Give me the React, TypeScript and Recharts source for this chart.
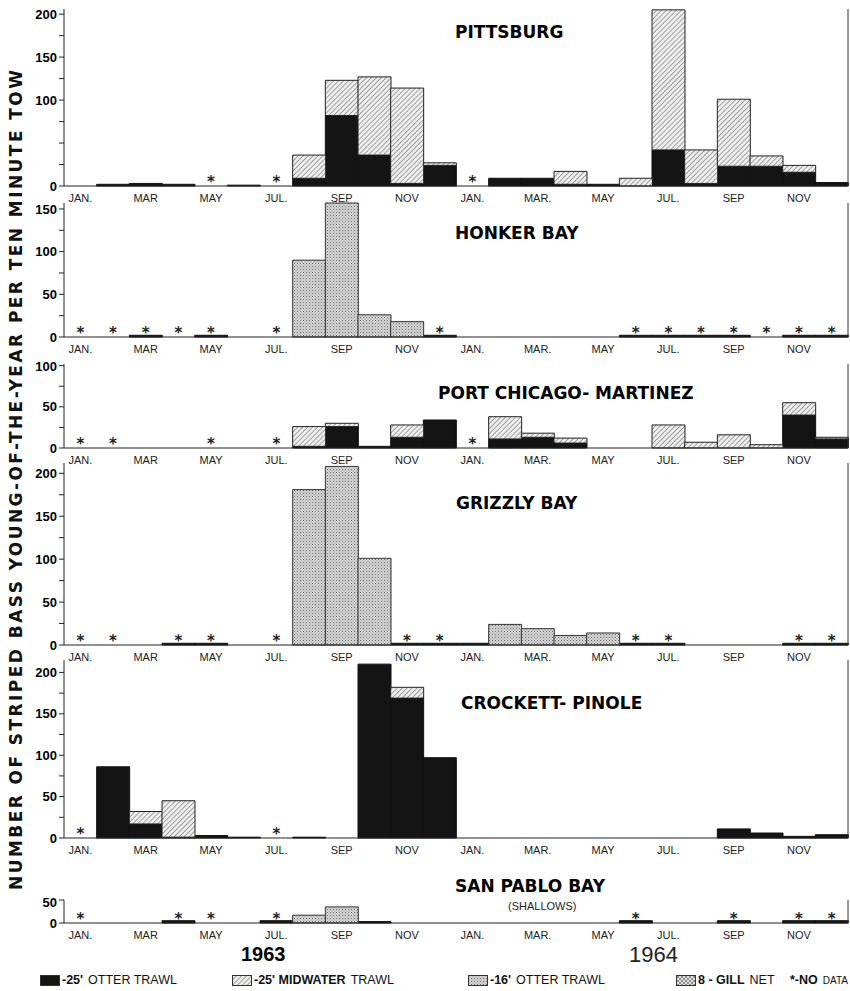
import React from "react";
import { ComposedChart, Bar, Line, XAxis, YAxis } from "recharts";

// month tick labels, Jan 1963 .. Dec 1964
const monthLabels = [
  "JAN.", "", "MAR", "", "MAY", "", "JUL.", "", "SEP", "", "NOV", "",
  "JAN.", "", "MAR.", "", "MAY", "", "JUL.", "", "SEP", "", "NOV", "",
];

// PITTSBURG
const pittsburgOtter25 = [0, 2, 3, 2, 0, 1, 0, 9, 82, 36, 3, 24, 0, 9, 9, 2, 2, 0, 42, 3, 23, 23, 16, 4];
const pittsburgMidwater = [0, 0, 0, 0, 0, 0, 0, 27, 41, 91, 111, 3, 0, 0, 0, 15, 0, 9, 163, 39, 78, 12, 8, 0];
const pittsburgNoData = [4, 6, 12];

// HONKER BAY
const honkerOtter25 = [0, 0, 2, 0, 2, 0, 0, 0, 0, 0, 0, 2, 0, 0, 0, 0, 0, 2, 2, 2, 2, 0, 2, 2];
const honkerOtter16 = [0, 0, 0, 0, 0, 0, 0, 90, 157, 26, 18, 0, 0, 0, 0, 0, 0, 0, 0, 0, 0, 0, 0, 0];
const honkerNoData = [0, 1, 2, 3, 4, 6, 11, 17, 18, 19, 20, 21, 22, 23];

// PORT CHICAGO - MARTINEZ
const portChicagoOtter25 = [0, 0, 0, 0, 0, 0, 0, 2, 26, 2, 13, 34, 0, 11, 13, 6, 0, 0, 0, 0, 0, 0, 40, 11];
const portChicagoMidwater = [0, 0, 0, 0, 0, 0, 0, 24, 4, 0, 15, 0, 0, 27, 5, 6, 0, 0, 28, 7, 16, 4, 15, 2];
const portChicagoNoData = [0, 1, 4, 6, 12];

// GRIZZLY BAY
const grizzlyOtter25 = [0, 0, 0, 2, 2, 0, 0, 0, 0, 0, 2, 2, 2, 0, 0, 0, 0, 2, 2, 0, 0, 0, 2, 2];
const grizzlyOtter16 = [0, 0, 0, 0, 0, 0, 0, 181, 208, 101, 0, 0, 0, 24, 19, 11, 14, 0, 0, 0, 0, 0, 0, 0];
const grizzlyNoData = [0, 1, 3, 4, 6, 10, 11, 17, 18, 22, 23];

// CROCKETT - PINOLE
const crockettOtter25 = [0, 86, 17, 1, 3, 1, 0, 1, 0, 210, 169, 97, 0, 0, 0, 0, 0, 0, 0, 0, 11, 6, 2, 4];
const crockettMidwater = [0, 0, 15, 44, 0, 0, 0, 0, 0, 0, 13, 0, 0, 0, 0, 0, 0, 0, 0, 0, 0, 0, 0, 0];
const crockettNoData = [0, 6];

// SAN PABLO BAY (SHALLOWS)
const sanPabloOtter25 = [0, 0, 0, 5, 0, 0, 5, 0, 0, 3, 0, 0, 0, 0, 0, 0, 0, 5, 0, 0, 5, 0, 5, 5];
const sanPabloOtter16 = [0, 0, 0, 0, 0, 0, 0, 17, 35, 0, 0, 0, 0, 0, 0, 0, 0, 0, 0, 0, 0, 0, 0, 0];
const sanPabloNoData = [0, 3, 4, 6, 17, 20, 22, 23];

const panels = [
  { name: "PITTSBURG", zero: 186, ppu: 0.86, max: 206, labels: [0, 100, 150, 200],
    otter25: pittsburgOtter25, midwater: pittsburgMidwater, noData: pittsburgNoData,
    title: { left: 455, top: 23 } },
  { name: "HONKER BAY", zero: 337, ppu: 0.88, max: 152, labels: [0, 50, 100, 150],
    otter25: honkerOtter25, otter16: honkerOtter16, noData: honkerNoData,
    title: { left: 455, top: 224 } },
  { name: "PORT CHICAGO- MARTINEZ", zero: 448, ppu: 0.82, max: 102, labels: [0, 50, 100],
    otter25: portChicagoOtter25, midwater: portChicagoMidwater, noData: portChicagoNoData,
    title: { left: 438, top: 384 } },
  { name: "GRIZZLY BAY", zero: 645, ppu: 0.86, max: 212, labels: [0, 50, 100, 150, 200],
    otter25: grizzlyOtter25, otter16: grizzlyOtter16, noData: grizzlyNoData,
    title: { left: 456, top: 494 } },
  { name: "CROCKETT- PINOLE", zero: 838, ppu: 0.83, max: 215, labels: [0, 50, 100, 150, 200],
    otter25: crockettOtter25, midwater: crockettMidwater, noData: crockettNoData,
    title: { left: 461, top: 694 } },
  { name: "SAN PABLO BAY", zero: 923, ppu: 0.46, max: 50, labels: [0, 50],
    otter25: sanPabloOtter25, otter16: sanPabloOtter16, noData: sanPabloNoData,
    title: { left: 455, top: 877 } },
];

const SANS = "'Liberation Sans', Arial, sans-serif";
const HEAVY = "'DejaVu Sans', sans-serif";

const Asterisk = (props: any) => {
  const { cx, cy, index, value } = props;
  if (value == null || cx == null || cy == null) return <g key={`nd-${index}`} />;
  return (
    <text key={`nd-${index}`} x={cx} y={cy + 1} textAnchor="middle" fontSize={15}
      fontFamily={HEAVY} fontWeight={700} fill="#222">*</text>
  );
};

function Panel({ p }: { p: any }) {
  const plotH = Math.round(p.max * p.ppu);
  const plotTop = p.zero - plotH;
  const top = 6;
  const rows = monthLabels.map((_, i) => ({
    m: i,
    otter25: p.otter25 ? p.otter25[i] : 0,
    midwater: p.midwater ? p.midwater[i] : 0,
    otter16: p.otter16 ? p.otter16[i] : 0,
    nd: p.noData.includes(i) ? 0 : null,
  }));
  const ticks: number[] = [];
  for (let t = 0; t <= p.max; t += 25) ticks.push(t);

  return (
    <div style={{ position: "absolute", left: 0, top: plotTop - top }}>
      <ComposedChart width={850} height={top + plotH + 18} data={rows}
        margin={{ top, right: 2, bottom: 0, left: 24 }} barCategoryGap={0} barGap={0}>
        <XAxis dataKey="m" interval={0} tickLine={false} height={18}
          axisLine={{ stroke: "#222" }}
          tickFormatter={(v) => monthLabels[v]}
          tick={{ fontSize: 11, fill: "#222", fontFamily: SANS }} />
        <YAxis yAxisId="left" width={40} domain={[0, p.max]} ticks={ticks}
          tickFormatter={(v) => (p.labels.includes(v) ? String(v) : "")}
          tickSize={5} axisLine={{ stroke: "#222" }} tickLine={{ stroke: "#222" }}
          tick={{ fontSize: 13, fontWeight: 700, fill: "#000", fontFamily: SANS }} />
        <YAxis yAxisId="right" orientation="right" mirror domain={[0, p.max]} ticks={ticks}
          tick={false} tickSize={6} axisLine={{ stroke: "#333" }} tickLine={{ stroke: "#333" }} />
        <Bar yAxisId="left" dataKey="otter25" stackId="a" fill="#141414" stroke="#111"
          strokeWidth={1} isAnimationActive={false} />
        <Bar yAxisId="left" dataKey="midwater" stackId="a" fill="url(#hatch)" stroke="#222"
          strokeWidth={1} isAnimationActive={false} />
        <Bar yAxisId="left" dataKey="otter16" stackId="a" fill="url(#stipple)" stroke="#333"
          strokeWidth={1} isAnimationActive={false} />
        <Line yAxisId="left" dataKey="nd" stroke="none" dot={Asterisk} activeDot={false}
          isAnimationActive={false} />
      </ComposedChart>
    </div>
  );
}

function Swatch({ fill }: { fill: string }) {
  return (
    <svg width={20} height={11} style={{ marginRight: 2 }}>
      <rect x={0.5} y={0.5} width={19} height={10} fill={fill} stroke="#333" />
    </svg>
  );
}

function LegendItem({ left, fill, bold, text, textSize }: {
  left: number; fill?: string; bold: string; text: string; textSize?: number;
}) {
  return (
    <div style={{ position: "absolute", left, top: 0, display: "flex", alignItems: "center",
      whiteSpace: "nowrap" }}>
      {fill && <Swatch fill={fill} />}
      <span style={{ fontWeight: 700 }}>{bold}</span>
      <span style={{ marginLeft: 5, fontSize: textSize }}>{text}</span>
    </div>
  );
}

export default function App() {
  return (
    <div style={{ position: "absolute", left: 0, top: 0, width: 850, height: 991,
      background: "#fff", overflow: "hidden", fontFamily: SANS }}>
      <svg width={0} height={0} style={{ position: "absolute" }}>
        <defs>
          <pattern id="hatch" patternUnits="userSpaceOnUse" width={3.5} height={3.5}
            patternTransform="rotate(45)">
            <rect width={3.5} height={3.5} fill="#eeeeee" />
            <line x1={0} y1={0} x2={0} y2={3.5} stroke="#555" strokeWidth={1} />
          </pattern>
          <pattern id="stipple" patternUnits="userSpaceOnUse" width={3} height={3}>
            <rect width={3} height={3} fill="#d6d6d6" />
            <rect x={0} y={0} width={1} height={1} fill="#6a6a6a" />
            <rect x={1.5} y={1.5} width={1} height={1} fill="#8a8a8a" />
          </pattern>
          <pattern id="gill" patternUnits="userSpaceOnUse" width={4} height={4}>
            <rect width={4} height={4} fill="#e2e2e2" />
            <path d="M0 0 L4 4 M4 0 L0 4" stroke="#777" strokeWidth={0.8} />
          </pattern>
        </defs>
      </svg>

      <svg width={40} height={991} style={{ position: "absolute", left: 0, top: 0 }}>
        <text transform="translate(22,480) rotate(-90)" textAnchor="middle" fontSize={17}
          fontWeight={700} fontFamily={HEAVY} fill="#111" textLength={820} lengthAdjust="spacing">
          NUMBER OF STRIPED BASS YOUNG-OF-THE-YEAR PER TEN MINUTE TOW
        </text>
      </svg>

      {panels.map((p) => (
        <Panel key={p.name} p={p} />
      ))}

      {panels.map((p) => (
        <div key={`t-${p.name}`} style={{ position: "absolute", left: p.title.left, top: p.title.top,
          fontFamily: HEAVY, fontWeight: 700, fontSize: 17, lineHeight: "18px", color: "#000",
          whiteSpace: "nowrap" }}>
          {p.name}
        </div>
      ))}
      <div style={{ position: "absolute", left: 508, top: 900, fontSize: 11, color: "#222" }}>
        (SHALLOWS)
      </div>

      <div style={{ position: "absolute", left: 241, top: 943, fontSize: 20, fontWeight: 700 }}>1963</div>
      <div style={{ position: "absolute", left: 629, top: 942, fontSize: 22, color: "#222" }}>1964</div>

      <div style={{ position: "absolute", left: 0, top: 973, width: 850, height: 16, fontSize: 12.5,
        color: "#111" }}>
        <LegendItem left={40} fill="#141414" bold="-25'" text="OTTER TRAWL" />
        <LegendItem left={232} fill="url(#hatch)" bold="-25' MIDWATER" text="TRAWL" />
        <LegendItem left={468} fill="url(#stipple)" bold="-16'" text="OTTER TRAWL" />
        <LegendItem left={676} fill="url(#gill)" bold="8 - GILL" text="NET" />
        <LegendItem left={790} bold="*-NO" text="DATA" textSize={10} />
      </div>
    </div>
  );
}
